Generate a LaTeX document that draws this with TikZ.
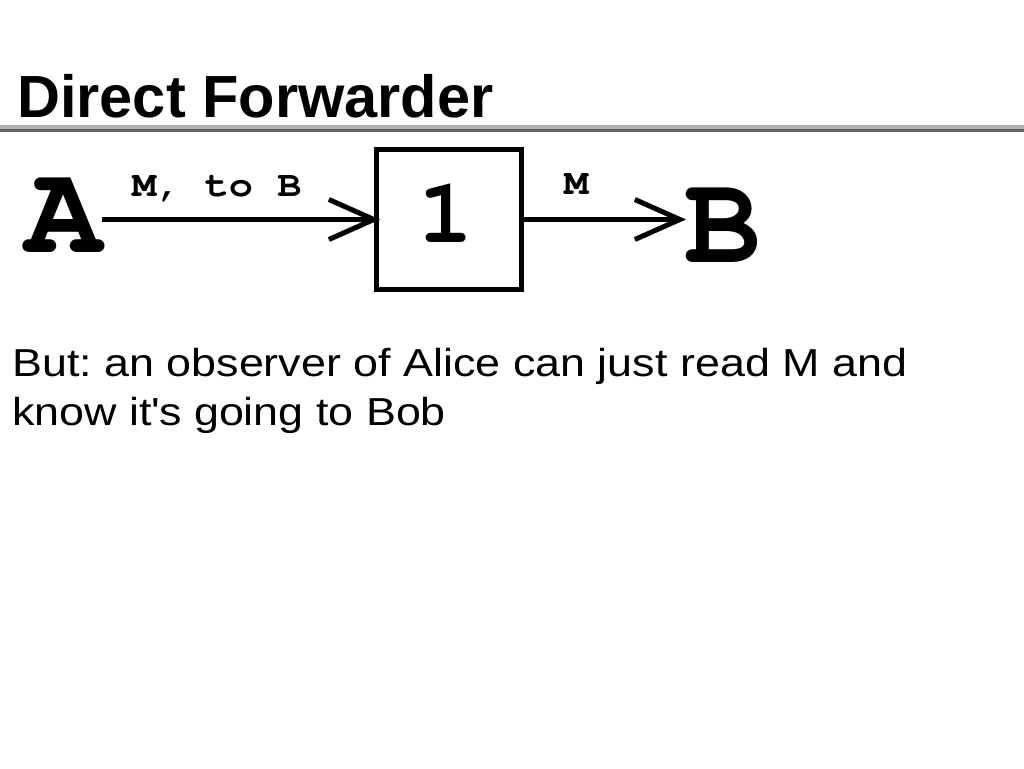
\documentclass[tikz,border=0pt]{standalone}
\usepackage{fontspec}
\usepackage{tikz}
\usepackage{xcolor}
\usetikzlibrary{arrows.meta}
\setmainfont{Liberation Sans}
\newfontfamily\notefont[FakeStretch=1.15]{Liberation Sans}
\newcommand{\cour}{\fontencoding{T1}\fontfamily{pcr}\bfseries}
\frenchspacing

\begin{document}
\begin{tikzpicture}[x=1pt,y=-1pt,
  box/.style={draw,line width=5pt,minimum width=145pt,minimum height=140pt,inner sep=0pt},
  msg/.style={draw,line width=4.5pt,-{Straight Barb[length=45pt,width=40pt,line width=5pt]}},
  big/.style={inner sep=0pt,font=\cour\fontsize{128}{128}\selectfont},
  lab/.style={anchor=base west,inner sep=0pt,xscale=1.12,transform shape,font=\cour\fontsize{36}{36}\selectfont}]
\useasboundingbox (0,0) rectangle (1024,768);
\node [anchor=base west,inner sep=0pt,font=\bfseries\fontsize{59.5}{60}\selectfont] (title) at (17,117) {Direct Forwarder};
\fill [black!30] (0,124.5) rectangle (1024,128.5);
\fill [black!62] (0,128.5) rectangle (1024,131.5);
\node [big,anchor=base west] (A) at (25,252) {A};
\node [box] (fwd) at (449,219.5) {};
\node [anchor=base,inner sep=0pt,font=\cour\fontsize{92}{92}\selectfont] (one) at (446,242) {1};
\node [big,anchor=base west] (B) at (684,262) {B};
\draw [msg,shorten >=-6pt] (A.east |- fwd.west) -- (fwd.west);
\draw [msg,shorten >=-2pt] (fwd.east) -- (B.west |- fwd.east);
\node [lab] (lab1) at (132,196) {M, to B};
\node [lab] (lab2) at (564,194) {M};
\node [anchor=base west,inner sep=0pt,align=left,font=\notefont\fontsize{39}{49}\selectfont] (note) at (12,425)
  {But: an observer of Alice can just read M and\\know it\textquotesingle s going to Bob};
\end{tikzpicture}
\end{document}
